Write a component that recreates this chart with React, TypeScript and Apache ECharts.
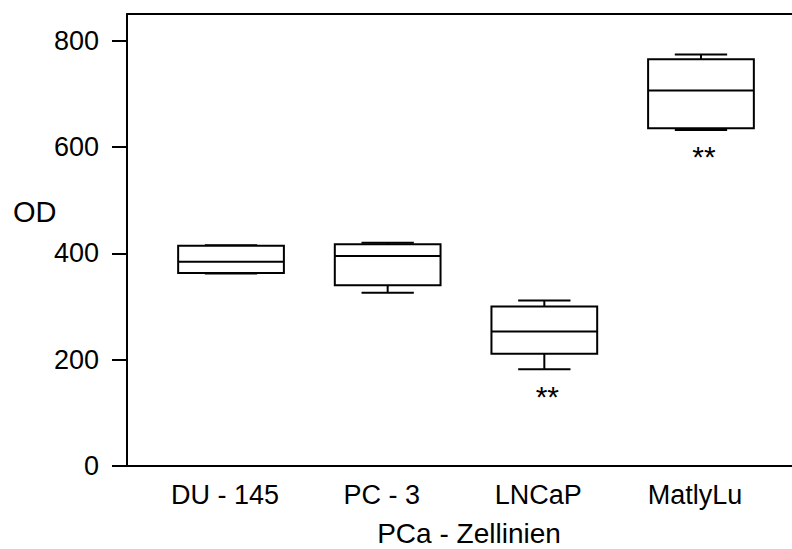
import React, { useEffect, useRef } from "react";
import * as echarts from "echarts";

const categories = ["DU - 145", "PC - 3", "LNCaP", "MatlyLu"];
// [min, Q1, median, Q3, max]
const boxStats = [
  [362, 363, 384, 414, 415],
  [326, 340, 395, 417, 420],
  [182, 211, 253, 300, 311],
  [632, 635, 706, 765, 774],
];
const significance = ["", "", "**", "**"];
const yTicks = [0, 200, 400, 600, 800];
const yMax = 850;

const FONT = 'Arial, "Liberation Sans", Helvetica, sans-serif';

export default function App() {
  const ref = useRef<HTMLDivElement>(null);
  useEffect(() => {
    if (!ref.current) return;
    const chart = echarts.init(ref.current, null, { renderer: "svg" });
    const top = 14;
    const bottom = 83;
    const option: any = {
      animation: false,
      backgroundColor: "#fff",
      grid: [
        { left: 127, right: -40, top, bottom, containLabel: false, outerBoundsMode: "none" },
        { left: 152.7, right: 12.7, top, bottom, containLabel: false, outerBoundsMode: "none" },
      ],
      xAxis: [
        {
          gridIndex: 0, type: "value", min: 0, max: 1, position: "bottom",
          axisLine: { show: true, lineStyle: { color: "#000", width: 2 } },
          axisTick: { show: false }, axisLabel: { show: false }, splitLine: { show: false },
        },
        {
          gridIndex: 0, type: "value", min: 0, max: 1, position: "top",
          axisLine: { show: true, lineStyle: { color: "#000", width: 2 } },
          axisTick: { show: false }, axisLabel: { show: false }, splitLine: { show: false },
        },
        {
          gridIndex: 1, type: "category", data: categories,
          axisLine: { show: false }, axisTick: { show: false }, splitLine: { show: false },
          axisLabel: { show: true, margin: 15, fontSize: 27, color: "#000", fontFamily: FONT, padding: [0, 12, 0, 0] },
          name: "PCa - Zellinien", nameLocation: "middle", nameGap: 53,
          nameTextStyle: { fontSize: 28, color: "#000", fontFamily: FONT, padding: [0, 0, 0, 6] },
        },
      ],
      yAxis: [
        {
          gridIndex: 0, type: "value", min: 0, max: yMax,
          axisLine: { show: true, lineStyle: { color: "#000", width: 2 } },
          axisTick: { show: true, inside: false, length: 15, lineStyle: { color: "#000", width: 2 }, customValues: yTicks },
          axisLabel: { show: true, margin: 28, fontSize: 27, color: "#000", fontFamily: FONT, customValues: yTicks },
          splitLine: { show: false },
        },
        { gridIndex: 1, type: "value", min: 0, max: yMax, show: false },
      ],
      graphic: [
        {
          type: "text", left: 13, top: 197,
          style: { text: "OD", fontSize: 29, fill: "#000", fontFamily: FONT },
        },
      ],
      series: [
        {
          type: "custom",
          xAxisIndex: 2,
          yAxisIndex: 1,
          data: boxStats.map((s, i) => [i, ...s]),
          renderItem: (params: any, api: any) => {
            const i = api.value(0);
            const lo = api.value(1), q1 = api.value(2), med = api.value(3), q3 = api.value(4), hi = api.value(5);
            const bw = api.size([1, 0])[0];
            const half = bw * 0.3375;
            const capHalf = bw * 0.167;
            const pLo = api.coord([i, lo]);
            const pQ1 = api.coord([i, q1]);
            const pMed = api.coord([i, med]);
            const pQ3 = api.coord([i, q3]);
            const pHi = api.coord([i, hi]);
            const cx = pMed[0];
            const st = { stroke: "#000", lineWidth: 2, fill: "none" };
            const children: any[] = [
              { type: "line", shape: { x1: cx, y1: pHi[1], x2: cx, y2: pQ3[1] }, style: st },
              { type: "line", shape: { x1: cx, y1: pLo[1], x2: cx, y2: pQ1[1] }, style: st },
              { type: "line", shape: { x1: cx - capHalf, y1: pHi[1], x2: cx + capHalf, y2: pHi[1] }, style: st },
              { type: "line", shape: { x1: cx - capHalf, y1: pLo[1], x2: cx + capHalf, y2: pLo[1] }, style: st },
              { type: "rect", shape: { x: cx - half, y: pQ3[1], width: half * 2, height: pQ1[1] - pQ3[1] }, style: { stroke: "#000", lineWidth: 2, fill: "#fff" } },
              { type: "line", shape: { x1: cx - half, y1: pMed[1], x2: cx + half, y2: pMed[1] }, style: st },
            ];
            const star = significance[params.dataIndex];
            if (star) {
              children.push({
                type: "text",
                style: {
                  text: star, x: cx + 3, y: pLo[1] + 27, align: "center", verticalAlign: "middle",
                  fontSize: 30, fill: "#000", fontFamily: FONT,
                },
              });
            }
            return { type: "group", children };
          },
        },
      ],
    };
    chart.setOption(option);
    return () => chart.dispose();
  }, []);
  return <div ref={ref} style={{ width: 792, height: 549, position: "absolute", left: 0, top: 0 }} />;
}
